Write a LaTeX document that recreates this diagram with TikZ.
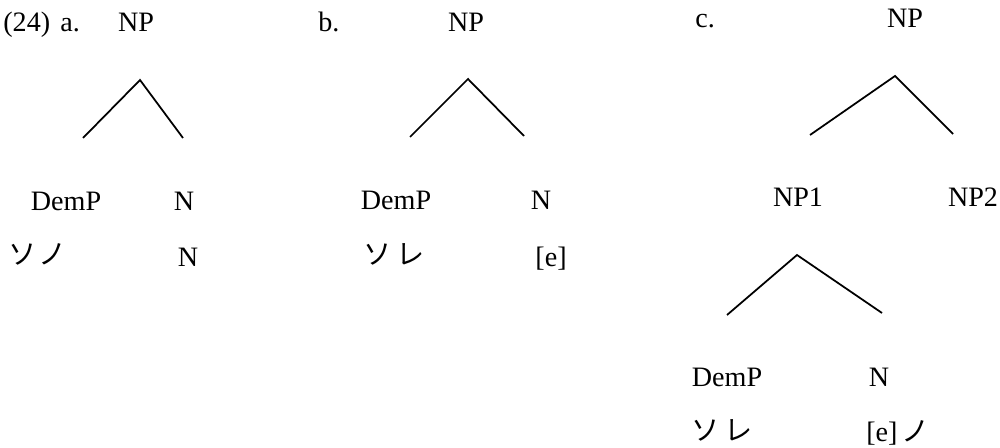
\documentclass[tikz,border=0pt]{standalone}
\usepackage{fontspec}
\setmainfont{Liberation Serif}
\newfontfamily\jpfont{Noto Sans CJK JP}
\usetikzlibrary{positioning}

\begin{document}
\begin{tikzpicture}[x=0.02cm, y=-0.02cm,
    lbl/.style={anchor=base, inner sep=0pt, font=\fontsize{16}{19}\selectfont},
    kana/.style={lbl, font=\fontsize{16}{19}\selectfont\jpfont},
    branch/.style={line width=1pt}]
    \useasboundingbox (0,0) rectangle (1000,448);

    % (24) a.
    \node[lbl, anchor=base west] (ex) at (3,32) {(24)};
    \node[lbl, anchor=base west] (la) at (60,32) {a.};
    \node[lbl] (a-np) at (136,32) {NP};
    \coordinate (a-top) at (140,80);
    \coordinate (a-l) at (83,138);
    \coordinate (a-r) at (183,138);
    \draw[branch] (a-l) -- (a-top) -- (a-r);
    \node[lbl] (a-dem) at (66,211) {DemP};
    \node[lbl] (a-n) at (184,211) {N};
    \node[kana, anchor=base west] (a-sono) at (8,265) {ソ\hspace{1pt}ノ};
    \node[lbl] (a-nn) at (188,267) {N};

    % b.
    \node[lbl, anchor=base west] (lb) at (318,32) {b.};
    \node[lbl] (b-np) at (466,32) {NP};
    \coordinate (b-top) at (468,79);
    \coordinate (b-l) at (410,137);
    \coordinate (b-r) at (524,136);
    \draw[branch] (b-l) -- (b-top) -- (b-r);
    \node[lbl] (b-dem) at (396,210) {DemP};
    \node[lbl] (b-n) at (541,210) {N};
    \node[kana, anchor=base west] (b-sore) at (363,265) {ソ\hspace{3pt}レ};
    \node[lbl] (b-e) at (551,267) {[e]};

    % c.
    \node[lbl, anchor=base west] (lc) at (695,28) {c.};
    \node[lbl] (c-np) at (905,28) {NP};
    \coordinate (c-top) at (895,76);
    \coordinate (c-l) at (810,135);
    \coordinate (c-r) at (953,134);
    \draw[branch] (c-l) -- (c-top) -- (c-r);
    \node[lbl] (c-np1) at (798,207) {NP1};
    \node[lbl] (c-np2) at (973,207) {NP2};
    \coordinate (c1-top) at (797,255);
    \coordinate (c1-l) at (727,315);
    \coordinate (c1-r) at (882,313);
    \draw[branch] (c1-l) -- (c1-top) -- (c1-r);
    \node[lbl] (c-dem) at (727,387) {DemP};
    \node[lbl] (c-n) at (879,387) {N};
    \node[kana, anchor=base west] (c-sore) at (691,441) {ソ\hspace{3pt}レ};
    \node[lbl, anchor=base west] (c-e) at (866,442) {[e]\hspace{2pt}\jpfont ノ};
\end{tikzpicture}
\end{document}
